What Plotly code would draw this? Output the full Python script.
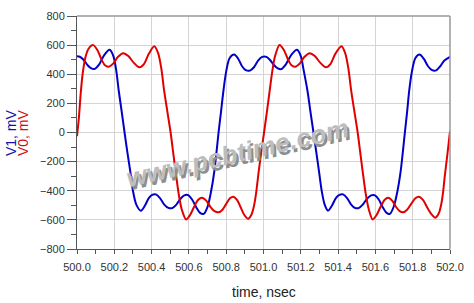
import plotly.graph_objects as go

# time axis in ns (absolute) and voltages in mV
t_v0 = [500.000, 500.010, 500.020, 500.030, 500.045, 500.062, 500.087, 500.110, 500.130, 500.150,
        500.171, 500.195, 500.220, 500.248, 500.275, 500.305, 500.334, 500.360, 500.385, 500.414,
        500.435, 500.452, 500.467, 500.485, 500.502, 500.515, 500.529, 500.545, 500.562, 500.585,
        500.607, 500.628, 500.650, 500.670, 500.693, 500.715, 500.737, 500.759, 500.780, 500.800,
        500.820, 500.838, 500.858, 500.878, 500.898, 500.918, 500.935, 500.948, 500.960, 500.974,
        500.988, 501.003, 501.018, 501.033, 501.047, 501.062, 501.086, 501.110, 501.130, 501.150,
        501.171, 501.195, 501.220, 501.248, 501.275, 501.305, 501.334, 501.360, 501.385, 501.418,
        501.438, 501.455, 501.470, 501.488, 501.505, 501.518, 501.532, 501.548, 501.565, 501.585,
        501.607, 501.628, 501.650, 501.669, 501.690, 501.710, 501.730, 501.749, 501.770, 501.792,
        501.814, 501.834, 501.855, 501.878, 501.900, 501.922, 501.940, 501.952, 501.962, 501.972,
        501.986, 502.000]
v0 = [-25, 100, 270, 400, 515, 575, 600, 565, 505, 462,
      452, 475, 520, 545, 525, 478, 448, 472, 540, 592,
      545, 440, 290, 140, 0, -130, -270, -420, -530, -597,
      -565, -510, -462, -448, -468, -510, -540, -548, -530, -490,
      -452, -441, -462, -515, -568, -592, -565, -510, -420, -270,
      -135, 0, 140, 285, 420, 525, 601, 565, 505, 462,
      452, 475, 520, 545, 525, 478, 448, 472, 540, 592,
      545, 440, 290, 140, 0, -130, -270, -420, -530, -597,
      -565, -510, -462, -448, -468, -510, -540, -548, -530, -490,
      -452, -441, -462, -515, -560, -585, -555, -500, -420, -300,
      -150, 8]

t_v1 = [500.000, 500.015, 500.035, 500.057, 500.077, 500.095, 500.120, 500.145, 500.175, 500.195,
        500.210, 500.224, 500.240, 500.255, 500.270, 500.286, 500.300, 500.318, 500.343, 500.365,
        500.385, 500.403, 500.423, 500.445, 500.468, 500.490, 500.511, 500.533, 500.555, 500.575,
        500.596, 500.617, 500.640, 500.660, 500.679, 500.700, 500.718, 500.736, 500.748, 500.759,
        500.772, 500.785, 500.800, 500.818, 500.843, 500.865, 500.885, 500.905, 500.927, 500.950,
        500.972, 500.993, 501.015, 501.035, 501.057, 501.077, 501.095, 501.120, 501.150, 501.180,
        501.200, 501.215, 501.236, 501.252, 501.268, 501.283, 501.298, 501.312, 501.328, 501.346,
        501.368, 501.388, 501.407, 501.427, 501.448, 501.470, 501.490, 501.510, 501.532, 501.555,
        501.577, 501.598, 501.618, 501.640, 501.660, 501.678, 501.698, 501.717, 501.735, 501.747,
        501.758, 501.770, 501.781, 501.796, 501.814, 501.837, 501.860, 501.882, 501.904, 501.926,
        501.948, 501.970, 502.000]
v1 = [523, 520, 500, 462, 440, 437, 470, 530, 568, 525,
      430, 285, 140, 0, -135, -270, -400, -495, -537, -500,
      -450, -428, -425, -450, -495, -518, -519, -495, -455, -432,
      -430, -460, -515, -552, -559, -510, -410, -270, -135, 0,
      140, 285, 420, 510, 535, 505, 455, 428, 425, 450,
      495, 519, 519, 498, 462, 440, 435, 468, 535, 568,
      525, 430, 285, 140, 0, -135, -270, -400, -495, -537,
      -500, -450, -428, -425, -450, -495, -518, -519, -495, -455,
      -432, -432, -460, -515, -552, -559, -510, -410, -270, -135,
      0, 140, 285, 420, 510, 535, 505, 455, 428, 427,
      455, 495, 520]

x_ticks = [500.0, 500.2, 500.4, 500.6, 500.8, 501.0, 501.2, 501.4, 501.6, 501.8, 502.0]
y_ticks = [-800, -600, -400, -200, 0, 200, 400, 600, 800]

FONT = "Arial, Liberation Sans, sans-serif"

fig = go.Figure()
fig.add_trace(go.Scatter(x=t_v1, y=v1, mode="lines", name="V1",
                         line=dict(color="#0000C8", width=2, shape="spline", smoothing=0.8)))
fig.add_trace(go.Scatter(x=t_v0, y=v0, mode="lines", name="V0",
                         line=dict(color="#E00000", width=2, shape="spline", smoothing=0.8)))

fig.update_layout(
    width=474, height=303,
    margin=dict(l=77, r=20, t=10, b=54),
    paper_bgcolor="white", plot_bgcolor="white",
    showlegend=False,
    font=dict(family=FONT, size=11, color="#333333"),
    xaxis=dict(range=[500, 502], tickvals=x_ticks, tickformat=".1f",
               showgrid=True, gridcolor="#d4d4d4", gridwidth=1,
               showline=True, linecolor="#555555", linewidth=1,
               ticks="outside", ticklen=4, tickcolor="#555555",
               ticklabelstandoff=4,
               minor=dict(dtick=0.1, ticks="outside", ticklen=4, tickcolor="#555555", showgrid=False),
               zeroline=False, fixedrange=True),
    yaxis=dict(range=[-800, 800], tickvals=y_ticks,
               showgrid=True, gridcolor="#d4d4d4", gridwidth=1,
               showline=True, linecolor="#555555", linewidth=1,
               ticks="outside", ticklen=9, tickcolor="#555555",
               minor=dict(dtick=100, ticks="outside", ticklen=5, tickcolor="#555555", showgrid=False),
               zeroline=False, fixedrange=True),
    shapes=[
        dict(type="line", xref="paper", yref="paper", x0=0, x1=1, y0=1, y1=1,
             line=dict(color="#999999", width=1.5)),
        dict(type="line", xref="paper", yref="paper", x0=1, x1=1, y0=0, y1=1,
             line=dict(color="#999999", width=1.5)),
    ],
    annotations=[
        dict(text="V1, mV", xref="paper", yref="paper", x=-0.178, y=0.5, textangle=-90,
             showarrow=False, xanchor="center", yanchor="middle",
             font=dict(family=FONT, size=14, color="#1010B0")),
        dict(text="V0, mV", xref="paper", yref="paper", x=-0.146, y=0.5, textangle=-90,
             showarrow=False, xanchor="center", yanchor="middle",
             font=dict(family=FONT, size=14, color="#D01010")),
        dict(text="time, nsec", xref="paper", yref="paper", x=0.5, y=-0.184,
             showarrow=False, xanchor="center", yanchor="middle",
             font=dict(family=FONT, size=14, color="#222222")),
        dict(text="<b><i>www.pcbtime.com</i></b>", xref="paper", yref="paper",
             x=0.433, y=0.405, textangle=-13, showarrow=False,
             xanchor="center", yanchor="middle", xshift=1, yshift=-1,
             font=dict(family=FONT, size=26, color="#8e8e8e")),
        dict(text="<b><i>www.pcbtime.com</i></b>", xref="paper", yref="paper",
             x=0.43, y=0.41, textangle=-13, showarrow=False,
             xanchor="center", yanchor="middle",
             font=dict(family=FONT, size=26, color="#bdbdbd")),
    ],
)

fig.write_html("out.html")
